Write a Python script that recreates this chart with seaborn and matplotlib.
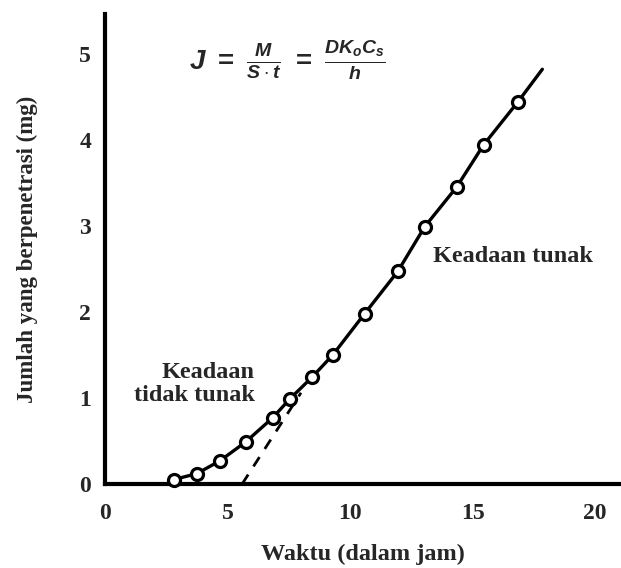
import matplotlib
matplotlib.use('Agg')
import matplotlib.pyplot as plt
import seaborn as sns
import pandas as pd

# data
waktu = [2.8, 3.75, 4.7, 5.75, 6.85, 7.55, 8.45, 9.3, 10.6, 11.95, 13.05, 14.35, 15.45, 16.85]
jumlah = [0.05, 0.12, 0.27, 0.49, 0.77, 0.99, 1.24, 1.5, 1.98, 2.47, 2.99, 3.45, 3.94, 4.44]
# ujung garis tunak
garis_x = waktu + [17.85]
garis_y = jumlah + [4.82]
# ekstrapolasi (garis putus-putus)
ekstra_x = [5.6, 8.0]
ekstra_y = [0.0, 1.06]

x_ticks = [0, 5, 10, 15, 20]
y_ticks = [0, 1, 2, 3, 4, 5]

sns.set_style('white')
plt.rcParams['font.family'] = ['Liberation Serif', 'DejaVu Serif']
plt.rcParams['font.weight'] = 'bold'
plt.rcParams['mathtext.fontset'] = 'custom'
plt.rcParams['mathtext.it'] = 'Liberation Sans:italic:bold'
plt.rcParams['mathtext.rm'] = 'Liberation Sans:bold'

df = pd.DataFrame({'waktu': waktu, 'jumlah': jumlah})
df_garis = pd.DataFrame({'x': garis_x, 'y': garis_y})
df_ekstra = pd.DataFrame({'x': ekstra_x, 'y': ekstra_y})

fig = plt.figure(figsize=(6.21, 5.68), dpi=100)
ax = fig.add_axes([0.169, 0.148, 0.831, 0.827])

sns.lineplot(data=df_garis, x='x', y='y', color='black', linewidth=2.4, ax=ax, zorder=2)
sns.lineplot(data=df_ekstra, x='x', y='y', color='black', linewidth=2.0, ax=ax,
             linestyle=(0, (4, 3.5)), zorder=2)
sns.scatterplot(data=df, x='waktu', y='jumlah', s=75, facecolor='white', edgecolor='black',
                linewidth=2.3, ax=ax, zorder=3, clip_on=False)

ax.set_xlim(0, 21.06)
ax.set_ylim(0, 5.46)
ax.set_xticks(x_ticks)
ax.set_yticks(y_ticks)
ax.tick_params(direction='in', length=7, width=2.5, labelsize=17)
ax.tick_params(axis='x', pad=14)
ax.tick_params(axis='y', pad=10)
for lab in ax.get_xticklabels() + ax.get_yticklabels():
    lab.set_fontweight('bold')

sns.despine(ax=ax)
for s in ['left', 'bottom']:
    ax.spines[s].set_linewidth(3)
    ax.spines[s].set_color('black')

ax.set_xlabel('Waktu (dalam jam)', fontsize=17.5, fontweight='bold', labelpad=14)
ax.set_ylabel('Jumlah yang berpenetrasi (mg)', fontsize=16.5, fontweight='bold', labelpad=30)

ax.text(7.45, 4.92, r'$J\ =\ \frac{M}{S\cdot t}\ =\ \frac{DK_oC_s}{h}$', fontsize=20,
        ha='center', va='center')
ax.text(13.4, 2.64, 'Keadaan tunak', fontsize=17.5, fontweight='bold', ha='left', va='center')
ax.text(6.1, 1.16, 'Keadaan\ntidak tunak', fontsize=17.5, fontweight='bold', ha='right',
        va='center', multialignment='right', linespacing=1.15)

plt.savefig('out.png', dpi=100)
